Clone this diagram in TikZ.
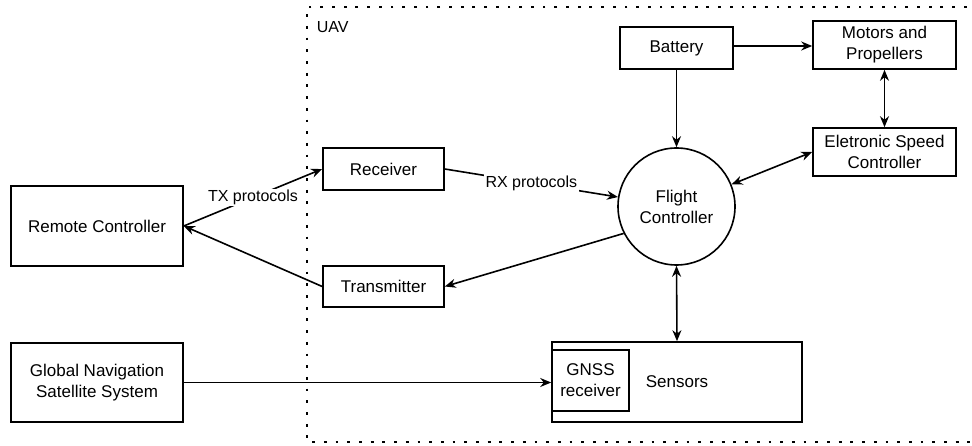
\documentclass[tikz,border=0pt]{standalone}
\usepackage{fontspec}
\setmainfont{Liberation Sans}
\usetikzlibrary{arrows.meta}

\begin{document}
\begin{tikzpicture}[x=1pt, y=-1pt, line width=1.6pt,
    >={Stealth[length=11pt, width=9pt]},
    every node/.style={font=\fontsize{17}{21}\selectfont, align=center, inner sep=0pt},
    blok/.style={draw, rectangle},
    lbl/.style={fill=white, inner sep=1.5pt, font=\fontsize{16}{19}\selectfont},
    uavline/.style={line width=2.8pt, dash pattern=on 2.8pt off 8.9pt}]

    % Ramec
    \clip (0,0) rectangle (972,446);
    \useasboundingbox (0,0) rectangle (972,446);

    % UAV hranice
    \draw[uavline] (990,7) -- (307,7) -- (307,442) -- (990,442);
    \node[anchor=base west, font=\fontsize{16}{19}\selectfont] (uav) at (316,33) {UAV};

    % Vnejsi bloky
    \node[blok, minimum width=172pt, minimum height=80pt] (remote) at (97,226) {Remote Controller};
    \node[blok, minimum width=172pt, minimum height=79pt] (gnss) at (97,382.5) {Global Navigation\\Satellite System};

    % Bloky v UAV
    \node[blok, minimum width=121pt, minimum height=42pt] (receiver) at (383.5,169) {Receiver};
    \node[blok, minimum width=121pt, minimum height=41pt] (transmitter) at (383.5,286.5) {Transmitter};
    \node[blok, minimum width=113pt, minimum height=42pt] (battery) at (676.5,48) {Battery};
    \node[blok, minimum width=143pt, minimum height=48pt] (motors) at (884.5,45) {Motors and\\Propellers};
    \node[blok, minimum width=143pt, minimum height=48pt] (esc) at (884.5,152) {Eletronic Speed\\Controller};
    \node[draw, circle, minimum size=117pt] (flight) at (676.5,206.5) {Flight\\Controller};
    \node[blok, minimum width=250pt, minimum height=80pt] (sensors) at (677,382) {Sensors};
    \node[blok, minimum width=77pt, minimum height=61pt] (gnssrx) at (590.5,380.5) {GNSS\\receiver};

    % Spoje
    \draw[->] (remote.east) -- node[lbl] {TX protocols} (receiver.west);
    \draw[->] (transmitter.west) -- (remote.east);
    \draw[->] (receiver.east) -- node[lbl] {RX protocols} (flight);
    \draw[->] (flight.207) -- (transmitter.east);
    \draw[->] (battery.south) -- (flight.north);
    \draw[->] (battery.east |- 0,46) -- (motors.west |- 0,46);
    \draw[<->] (motors.south) -- (esc.north);
    \draw[<->] (esc.west) -- (flight);
    \draw[<->] (flight.south) -- (sensors.north);
    \draw[->] (gnss.east) -- (gnss.east -| gnssrx.west);

\end{tikzpicture}
\end{document}
